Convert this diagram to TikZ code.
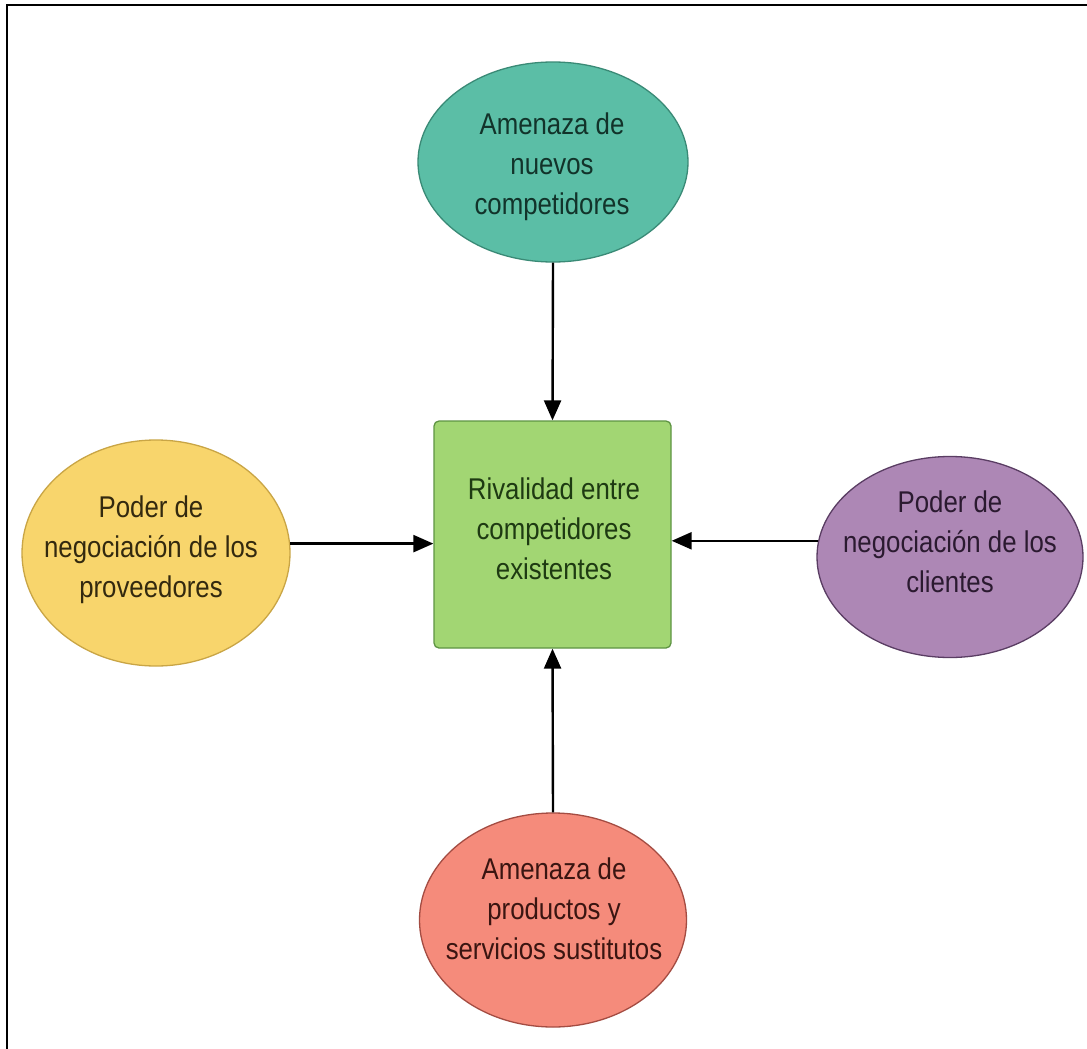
\documentclass[tikz,border=0pt]{standalone}
\usepackage{fontspec}
\setmainfont{Liberation Sans}[FakeStretch=0.86]
\usetikzlibrary{arrows.meta}
\definecolor{tealF}{HTML}{5BBEA6}
\definecolor{tealD}{HTML}{3A8A76}
\definecolor{tealT}{HTML}{12332A}
\definecolor{grnF}{HTML}{A2D673}
\definecolor{grnD}{HTML}{5E9443}
\definecolor{grnT}{HTML}{1E3A12}
\definecolor{yelF}{HTML}{F8D56C}
\definecolor{yelD}{HTML}{C9A545}
\definecolor{yelT}{HTML}{33290F}
\definecolor{purF}{HTML}{AD87B5}
\definecolor{purD}{HTML}{5A3D63}
\definecolor{purT}{HTML}{2B1A30}
\definecolor{redF}{HTML}{F58B7B}
\definecolor{redD}{HTML}{A44C42}
\definecolor{redT}{HTML}{3A1511}
\tikzset{
  oval/.style={ellipse, draw, line width=1.3pt, inner sep=0pt},
  txt/.style={align=center, inner sep=0pt, font=\fontsize{30}{40}\selectfont},
  arr/.style={line width=2.4pt, -{Triangle[length=20pt,width=17pt]}},
  frame/.style={line width=2.6pt, black}
}
\usetikzlibrary{shapes.geometric}
\begin{document}
\begin{tikzpicture}[x=1pt,y=-1pt]
\useasboundingbox[fill=white] (0,0) rectangle (1087,1049);
\draw[frame] (7,1049) -- (7,5) -- (1087,5);
% shapes
\node[oval, fill=tealF, draw=tealD, minimum width=270pt, minimum height=200pt] (new) at (553,162) {};
\node[draw=grnD, fill=grnF, line width=1.3pt, rounded corners=5pt, minimum width=237pt, minimum height=227pt, inner sep=0pt] (box) at (552.5,534.5) {};
\node[oval, fill=yelF, draw=yelD, minimum width=268pt, minimum height=226pt] (sup) at (156,553) {};
\node[oval, fill=purF, draw=purD, minimum width=266pt, minimum height=201pt] (cli) at (950,557) {};
\node[oval, fill=redF, draw=redD, minimum width=267pt, minimum height=214pt] (sub) at (553,920) {};
% texts
\node[txt, text=tealT] (newt) at (552,167) {Amenaza de\\nuevos\\competidores};
\node[txt, text=grnT] (boxt) at (554,529) {Rivalidad entre\\competidores\\existentes};
\node[txt, text=yelT] (supt) at (151,550) {Poder de\\negociación de los\\proveedores};
\node[txt, text=purT] (clit) at (950,542) {Poder de\\negociación de los\\clientes};
\node[txt, text=redT] (subt) at (554,909) {Amenaza de\\productos y\\servicios sustitutos};
% arrows
\draw[arr] (new.south) -- (box.north);
\draw[arr] (sub.north) -- (box.south);
\draw[arr] (sup.4) -- (sup.4 -| box.west);
\draw[arr] (cli.173) -- (cli.173 -| box.east);
\end{tikzpicture}
\end{document}
